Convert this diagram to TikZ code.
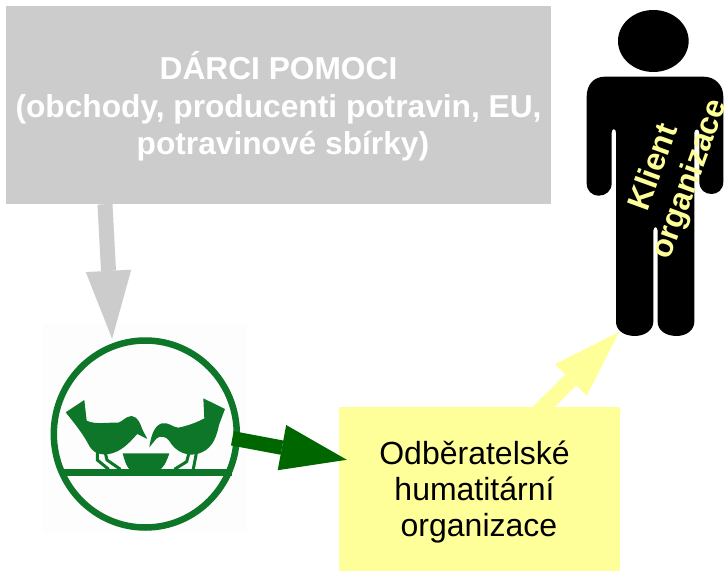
\documentclass[tikz,border=0pt]{standalone}
\usepackage{fontspec}
\setmainfont{Liberation Sans}
\usetikzlibrary{arrows.meta,calc}
\definecolor{boxgray}{HTML}{CCCCCC}
\definecolor{paleyellow}{HTML}{FFFF99}
\definecolor{logogreen}{HTML}{0E7628}
\definecolor{arrowgreen}{HTML}{006600}
\definecolor{logobg}{HTML}{FDFDFD}
\tikzset{
  donorbox/.style={fill=boxgray,minimum width=545pt,minimum height=198pt,inner sep=0pt},
  donortext/.style={align=center,text=white,inner sep=0pt,font=\bfseries\fontsize{31.7}{37.5}\selectfont},
  orgbox/.style={fill=paleyellow,minimum width=281pt,minimum height=164pt,inner sep=0pt},
  orgtext/.style={align=center,inner sep=0pt,font=\fontsize{32}{36}\selectfont},
  logobox/.style={fill=logobg,minimum width=204pt,minimum height=209pt,inner sep=0pt},
  persontext/.style={text=paleyellow,rotate=70,inner sep=0pt,font=\bfseries\fontsize{32}{36}\selectfont},
  blockarrow/.style={line width=#1,line cap=butt},
  zoomed/.style={x=0.3333pt,y=-0.3333pt},
  birdpart/.style={fill=logogreen,draw=none},
  birdleg/.style={draw=logogreen,line width=3pt,fill=none,line cap=round}
}
\begin{document}
\begin{tikzpicture}[x=1pt,y=-1pt]
\useasboundingbox (0,0) rectangle (725,572);
\fill[white] (0,0) rectangle (725,572);
% nodes
\node[donorbox] (donor) at (278.5,105) {};
\node[donortext] (donorlabel) at (278.5,106.5) {DÁRCI POMOCI\\(obchody, producenti potravin, EU,\\\ potravinové sbírky)};
\node[logobox] (logo) at (145,428.5) {};
\node[orgbox] (org) at (479.5,489) {};
\node[orgtext] (orglabel) at (474.5,492.5) {Odběratelské\\humatitární\\\ organizace};
% logo
\draw[logogreen,line width=6.5pt] (145.3,434) ellipse[x radius=91.5pt,y radius=93.5pt];
\draw[logogreen,line width=6.5pt] (63,472.3) -- (232,472.3);
\begin{scope}[shift={(60,390)},zoomed]
  \path[birdpart] (17,67) -- (73,30) -- (80,92) .. controls (105,105) and (150,96) .. (175,98)
    .. controls (190,93) and (195,80) .. (215,78) .. controls (235,80) and (242,105) .. (247,118)
    -- (262,147) -- (232,132) .. controls (215,150) and (195,175) .. (165,187)
    .. controls (140,197) and (105,198) .. (88,168) .. controls (73,138) and (48,105) .. (17,67) -- cycle;
  \path[birdpart] (430,25) -- (495,57) -- (477,105) .. controls (467,155) and (450,180) .. (415,191)
    .. controls (385,200) and (348,188) .. (328,153) .. controls (318,138) and (300,137) .. (290,145)
    -- (268,172) .. controls (272,145) and (280,108) .. (305,100) .. controls (325,95) and (340,113) .. (355,113)
    .. controls (380,108) and (410,98) .. (433,85) -- cycle;
  \path[birdpart] (188,190) -- (328,190) .. controls (320,215) and (310,235) .. (295,242) -- (215,242)
    .. controls (200,235) and (195,215) .. (188,190) -- cycle;
  \draw[birdleg] (112,180) -- (112,210) -- (145,237);
  \draw[birdleg] (135,185) -- (141,210) -- (180,237);
  \draw[birdleg] (410,185) -- (400,237);
  \draw[birdleg] (388,185) -- (380,215) -- (345,237);
\end{scope}
% person
\begin{scope}[shift={(580,0)},zoomed]
  \fill[black] (220,123) ellipse[x radius=106,y radius=93];
  \fill[black] (75,230) -- (370,230) .. controls (405,230) and (430,255) .. (430,290)
    -- (430,545) .. controls (430,570) and (412,582) .. (395,582) .. controls (375,582) and (358,570) .. (358,545)
    -- (358,398) .. controls (358,385) and (343,385) .. (343,398)
    -- (343,965) .. controls (343,990) and (320,1008) .. (290,1008) .. controls (255,1008) and (233,990) .. (233,965)
    -- (233,692) .. controls (233,678) and (220,678) .. (220,692)
    -- (220,965) .. controls (220,990) and (195,1008) .. (165,1008) .. controls (130,1008) and (108,990) .. (108,965)
    -- (108,398) .. controls (108,384) and (95,384) .. (95,398)
    -- (95,550) .. controls (95,572) and (78,587) .. (57,587) .. controls (35,587) and (20,572) .. (20,550)
    -- (20,290) .. controls (20,255) and (40,230) .. (75,230) -- cycle;
\end{scope}
\node[persontext] (klient) at (652,166.5) {Klient};
\node[persontext] (klientorg) at (690.5,179.5) {organizace};
% connectors
\draw[boxgray,blockarrow=15pt,-{Triangle[length=68pt,width=45.5pt,line width=0pt]}]
  ($(donor.south west)+(99.2,0)$) -- ($(logo.north west)+(69.3,15)$);
\draw[arrowgreen,blockarrow=14.5pt,-{Triangle[length=66pt,width=46pt,line width=0pt]}]
  ($(logo.north west)+(189.5,114.5)$) -- ($(org.north west)+(8,53)$);
\draw[paleyellow,blockarrow=15.5pt,-{Triangle[length=68pt,width=45pt,line width=0pt]}]
  ($(org.north west)+(191,14)$) -- (619,332);
\end{tikzpicture}
\end{document}
